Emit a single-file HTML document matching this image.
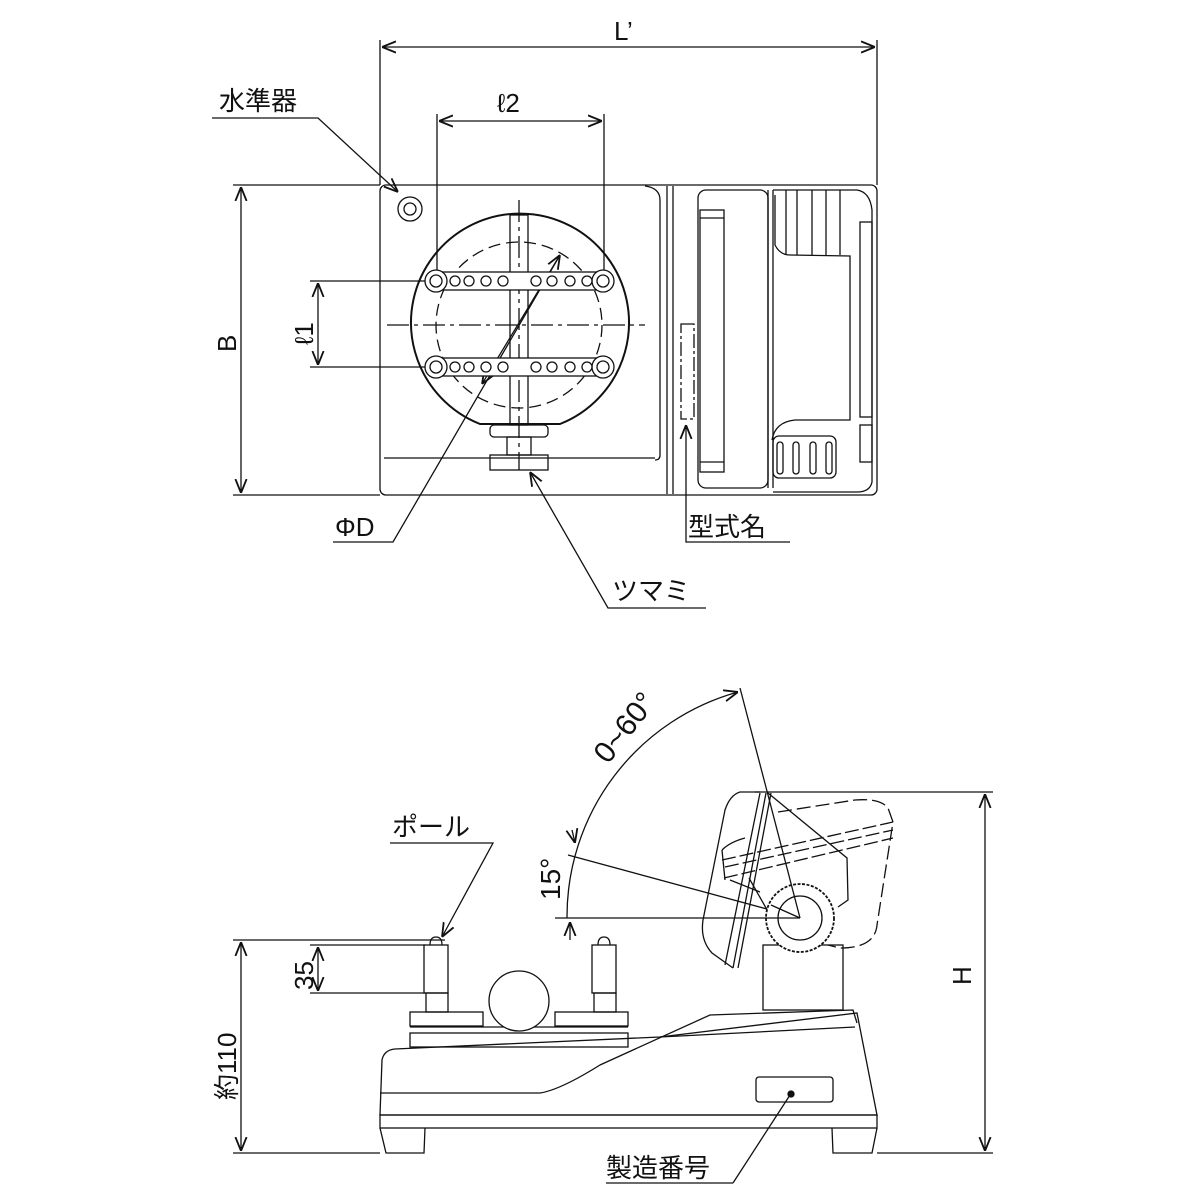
<!DOCTYPE html>
<html><head><meta charset="utf-8"><style>
html,body{margin:0;padding:0;background:#fff}
svg{display:block}
text{font-family:"Liberation Sans","Noto Sans CJK JP",sans-serif;fill:#111}
</style></head><body>
<svg width="1200" height="1200" viewBox="0 0 1200 1200" xmlns="http://www.w3.org/2000/svg">
<defs>
<marker id="a" viewBox="0 0 10 10" refX="10" refY="5" markerWidth="14" markerHeight="14" orient="auto-start-reverse" markerUnits="userSpaceOnUse"><path d="M0,1 L10,5 L0,9" fill="none" stroke="#111" stroke-width="1.3"/></marker>
</defs>
<g fill="none" stroke="#111" stroke-width="1.3">
<!-- TOP VIEW dims -->
<line x1="380" y1="40" x2="380" y2="185"/>
<line x1="877" y1="40" x2="877" y2="185"/>
<line x1="382" y1="47" x2="875" y2="47" marker-start="url(#a)" marker-end="url(#a)"/>
<line x1="437" y1="114" x2="437" y2="281"/>
<line x1="604" y1="114" x2="604" y2="281"/>
<line x1="439" y1="121" x2="602" y2="121" marker-start="url(#a)" marker-end="url(#a)"/>
<line x1="233" y1="185" x2="380" y2="185"/>
<line x1="233" y1="495" x2="380" y2="495"/>
<line x1="241" y1="187" x2="241" y2="493" marker-start="url(#a)" marker-end="url(#a)"/>
<line x1="310" y1="281" x2="437" y2="281"/>
<line x1="310" y1="367" x2="437" y2="367"/>
<line x1="318" y1="283" x2="318" y2="365" marker-start="url(#a)" marker-end="url(#a)"/>
<!-- leaders -->
<polyline points="212,118 318,118 398,192" marker-end="url(#a)"/>
<polyline points="333,542 393,542 560,255" marker-end="url(#a)"/>
<line x1="560" y1="255" x2="482" y2="384" marker-end="url(#a)"/>
<polyline points="706,608 608,608 530,472" marker-end="url(#a)"/>
<polyline points="790,542 686,542 686,425" marker-end="url(#a)"/>
<!-- outer body -->
<rect x="380" y="185" width="497" height="310" rx="6"/>
<line x1="384" y1="458" x2="655" y2="458"/>
<path d="M645,186 Q660,188 660,200 L660,455 Q660,460 655,460"/>
<line x1="667" y1="186" x2="667" y2="494"/>
<line x1="673" y1="186" x2="673" y2="494"/>
<circle cx="410" cy="209" r="12"/><circle cx="410" cy="209" r="6"/>
<!-- circle plate -->
<path d="M480,424 A109,109 0 1 1 560,424 Z" stroke-width="2"/>
<circle cx="519" cy="325" r="83" stroke-dasharray="12,6"/>
<line x1="387" y1="325" x2="645" y2="325" stroke-dasharray="22,5,4,5"/>
<line x1="519" y1="200" x2="519" y2="470" stroke-dasharray="22,5,4,5"/>
<rect x="510" y="215" width="18" height="210"/>
<rect x="432" y="272" width="175" height="18" fill="#fff"/>
<rect x="432" y="358" width="175" height="18" fill="#fff"/>
<g fill="#fff">
<circle cx="436" cy="281" r="11"/><circle cx="436" cy="281" r="6"/>
<circle cx="603" cy="281" r="11"/><circle cx="603" cy="281" r="6"/>
<circle cx="436" cy="367" r="11"/><circle cx="436" cy="367" r="6"/>
<circle cx="603" cy="367" r="11"/><circle cx="603" cy="367" r="6"/>
<circle cx="455" cy="281" r="5"/><circle cx="469" cy="281" r="5"/><circle cx="486" cy="281" r="5"/><circle cx="503" cy="281" r="5"/>
<circle cx="536" cy="281" r="5"/><circle cx="552" cy="281" r="5"/><circle cx="570" cy="281" r="5"/><circle cx="587" cy="281" r="5"/>
<circle cx="455" cy="367" r="5"/><circle cx="469" cy="367" r="5"/><circle cx="486" cy="367" r="5"/><circle cx="503" cy="367" r="5"/>
<circle cx="536" cy="367" r="5"/><circle cx="552" cy="367" r="5"/><circle cx="570" cy="367" r="5"/><circle cx="587" cy="367" r="5"/>
</g>
<rect x="490" y="425" width="58" height="12" rx="4"/>
<rect x="507" y="437" width="24" height="18"/>
<rect x="490" y="455" width="58" height="15"/>
<!-- right display section -->
<rect x="681" y="324" width="13" height="95" stroke-dasharray="14,3,3,3"/>
<rect x="698" y="190" width="70" height="298" rx="8"/>
<rect x="700" y="210" width="24" height="262"/>
<line x1="700" y1="218" x2="724" y2="218"/><line x1="700" y1="462" x2="724" y2="462"/>
<line x1="768" y1="190" x2="768" y2="488"/><line x1="773" y1="190" x2="773" y2="488"/>
<path d="M773,190 L857,190 Q870,192 872,210 L872,482 Q870,492 857,492 L773,492"/>
<path d="M775,195 L775,245 Q780,255 790,255 L850,256 L850,420 L795,420 Q775,422 772,440"/>
<line x1="786" y1="190" x2="786" y2="255"/><line x1="797" y1="190" x2="797" y2="255"/><line x1="812" y1="190" x2="812" y2="255"/><line x1="826" y1="190" x2="826" y2="255"/><line x1="840" y1="190" x2="840" y2="255"/>
<rect x="860" y="222" width="12" height="195"/>
<rect x="860" y="425" width="12" height="37"/>
<rect x="773" y="436" width="63" height="42" rx="6"/>
<rect x="777" y="442" width="6" height="32" rx="3"/><rect x="793" y="442" width="6" height="32" rx="3"/><rect x="810" y="442" width="6" height="32" rx="3"/><rect x="826" y="442" width="6" height="32" rx="3"/>

<!-- SIDE VIEW -->
<line x1="233" y1="940" x2="445" y2="940"/>
<line x1="233" y1="1153" x2="380" y2="1153"/>
<line x1="241" y1="942" x2="241" y2="1151" marker-start="url(#a)" marker-end="url(#a)"/>
<line x1="310" y1="945" x2="425" y2="945"/>
<line x1="310" y1="993" x2="425" y2="993"/>
<line x1="318" y1="947" x2="318" y2="991" marker-start="url(#a)" marker-end="url(#a)"/>
<line x1="755" y1="792" x2="993" y2="792"/>
<line x1="877" y1="1153" x2="993" y2="1153"/>
<line x1="985" y1="794" x2="985" y2="1151" marker-start="url(#a)" marker-end="url(#a)"/>
<polyline points="390,843 493,843 442,937" marker-end="url(#a)"/>
<polyline points="733,1183 606,1183" /><line x1="733" y1="1183" x2="790" y2="1095"/>
<!-- angle -->
<path d="M567,918 A233,233 0 0 1 738,692" marker-end="url(#a)"/>
<line x1="740" y1="688" x2="768" y2="795"/>
<!-- base -->
<path d="M380,1115 L382,1060 Q384,1050 395,1049 L660,1037 L857,1013 L877,1115 Z"/>
<path d="M380,1093 L540,1093 Q560,1090 600,1065 L710,1015 L853,1010 L857,1023"/>
<line x1="660" y1="1037" x2="855" y2="1027"/>
<rect x="380" y="1115" width="497" height="13"/>
<path d="M380,1128 L386,1153 L424,1153 L425,1128"/>
<path d="M832,1128 L833,1153 L872,1153 L877,1128"/>
<rect x="756" y="1077" width="77" height="25" rx="3"/>
<circle cx="791" cy="1094" r="3" fill="#111"/>
<!-- plates, poles, ball -->
<rect x="410" y="1033" width="218" height="14"/>
<rect x="410" y="1012" width="73" height="14"/><rect x="555" y="1012" width="73" height="14"/>
<line x1="410" y1="1027" x2="628" y2="1027"/>
<rect x="426" y="993" width="22" height="19"/><rect x="594" y="993" width="22" height="19"/>
<rect x="424" y="945" width="24" height="48"/><rect x="592" y="945" width="24" height="48"/>
<path d="M430,945 Q430,937 436,937 Q442,937 442,945"/>
<path d="M598,945 Q598,937 604,937 Q610,937 610,945"/>
<circle cx="519" cy="1001" r="30" fill="#fff"/>
<!-- stand & head -->
<rect x="763" y="945" width="80" height="65" fill="#fff"/>
<!-- rear hidden outline -->
<path d="M778,812 L855,800 Q880,798 888,808 L893,822 L877,925 Q875,948 840,948 L828,945" stroke-dasharray="14,5"/>
<line x1="722" y1="860" x2="893" y2="822" stroke-dasharray="14,4"/>
<line x1="725" y1="867" x2="893" y2="830" stroke-dasharray="14,4"/>
<line x1="724" y1="878" x2="893" y2="838" stroke-dasharray="14,4"/>
<!-- triangle side -->
<path d="M768,793 L847,858 L848,900 L838,907"/>
<!-- front bezel -->
<path d="M760,792 L740,792 Q730,795 725,810 L703,920 Q700,940 712,953 L733,968"/>
<path d="M722,850 Q730,842 745,838"/>
<path d="M722,850 L725,880"/>
<path d="M760,793 L725,965 M766,793 L733,968 M771,793 L738,968"/>
<path d="M730,880 L760,892"/>
<path d="M749,878 L770,915"/>
<!-- 15 deg lines -->
<line x1="800" y1="918" x2="568" y2="855"/>
<line x1="800" y1="918" x2="555" y2="918"/>
<line x1="572" y1="830" x2="575" y2="843" marker-end="url(#a)"/>
<line x1="570" y1="940" x2="570" y2="922" marker-end="url(#a)"/>
<!-- knob -->
<circle cx="800" cy="918" r="34" fill="#fff" stroke-width="1.8" stroke-dasharray="3,1.5"/>
<circle cx="800" cy="918" r="22"/>
<line x1="800" y1="918" x2="768" y2="795"/>
<line x1="800" y1="918" x2="771" y2="905"/>
<line x1="800" y1="918" x2="766" y2="918"/>
</g>
<!-- texts -->
<g font-size="26">
<text x="614" y="40">L’</text>
<text x="497" y="112">ℓ2</text>
<text x="219" y="110">水準器</text>
<text x="335" y="536">ΦD</text>
<text x="612" y="600">ツマミ</text>
<text x="688" y="536">型式名</text>
<text x="392" y="836">ポール</text>
<text x="606" y="1177">製造番号</text>
<text transform="translate(236,352) rotate(-90)">B</text>
<text transform="translate(313,345) rotate(-90)">ℓ1</text>
<text transform="translate(971,985) rotate(-90)">H</text>
<text transform="translate(313,990) rotate(-90)">35</text>
<text transform="translate(236,1100) rotate(-90)">約110</text>
<text transform="translate(560,900) rotate(-90)" font-size="28">15°</text>
<text transform="translate(608,765) rotate(-52)" font-size="30">0~60°</text>
</g>
</svg>
</body></html>
